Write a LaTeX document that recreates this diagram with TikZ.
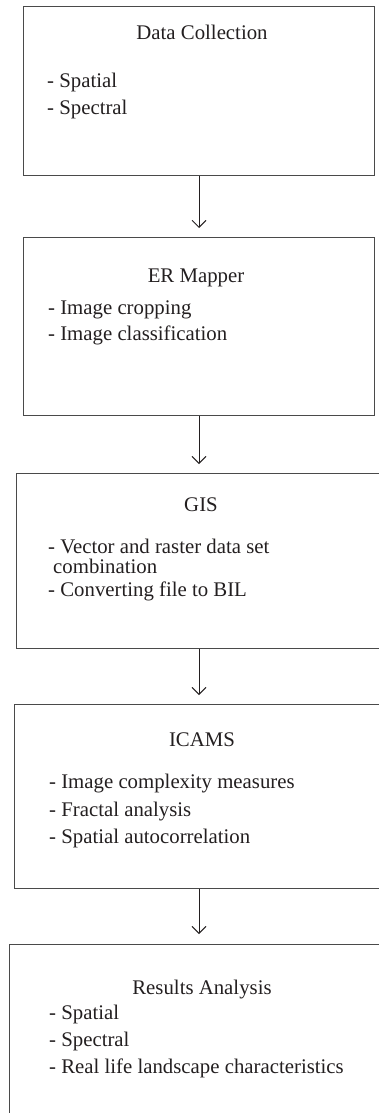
\documentclass[tikz,border=0pt]{standalone}
\usepackage{fontspec}
\setmainfont{Liberation Serif}
\usetikzlibrary{arrows.meta}
\definecolor{ink}{HTML}{231F20}
\definecolor{edge}{HTML}{4A4A4A}
\tikzset{
  box/.style={draw=edge, line width=1.3pt, rectangle, anchor=north west, inner sep=0pt},
  title/.style={anchor=base, text=ink, inner sep=0pt, font=\fontsize{20.8}{26}\selectfont},
  item/.style={anchor=base west, text=ink, inner sep=0pt, font=\fontsize{20.8}{26}\selectfont},
  arr/.style={draw=ink, line width=0.9pt, -{Straight Barb[length=7pt,width=14pt,line width=0.9pt]}}
}
\begin{document}
\begin{tikzpicture}[x=1pt,y=-1pt]
\useasboundingbox (0,0) rectangle (379,1113);
\coordinate (ax) at (199,0);
% boxes
\node[box, minimum width=351pt, minimum height=169pt] (b1) at (23,6) {};
\node[box, minimum width=351pt, minimum height=178pt] (b2) at (23,237) {};
\node[box, minimum width=375pt, minimum height=175pt] (b3) at (16,473) {};
\node[box, minimum width=377pt, minimum height=184pt] (b4) at (14,704) {};
\node[box, minimum width=382pt, minimum height=185pt] (b5) at (9,944) {};
% box 1
\node[title] (t1) at (202,39.5) {Data Collection};
\node[item] (b1i1) at (47,87.3) {- Spatial};
\node[item] (b1i2) at (47,114) {- Spectral};
% box 2
\node[title] (t2) at (196,282.7) {ER Mapper};
\node[item] (b2i1) at (48,314) {- Image cropping};
\node[item] (b2i2) at (48,340) {- Image classification};
% box 3
\node[title] (t3) at (201,511.7) {GIS};
\node[item] (b3i1) at (48,553.5) {- Vector and raster data set};
\node[item] (b3i2) at (53,573) {combination};
\node[item] (b3i3) at (48,596) {- Converting file to BIL};
% box 4
\node[title] (t4) at (202,746) {ICAMS};
\node[item] (b4i1) at (49,788) {- Image complexity measures};
\node[item] (b4i2) at (49,816.7) {- Fractal analysis};
\node[item] (b4i3) at (49,843) {- Spatial autocorrelation};
% box 5
\node[title] (t5) at (202,994) {Results Analysis};
\node[item] (b5i1) at (49,1019) {- Spatial};
\node[item] (b5i2) at (49,1046.7) {- Spectral};
\node[item] (b5i3) at (49,1073) {- Real life landscape characteristics};
% arrows
\draw[arr] (b1.south -| ax) -- ([yshift=9pt]b2.north -| ax);
\draw[arr] (b2.south -| ax) -- ([yshift=9pt]b3.north -| ax);
\draw[arr] (b3.south -| ax) -- ([yshift=9pt]b4.north -| ax);
\draw[arr] (b4.south -| ax) -- ([yshift=10pt]b5.north -| ax);
\end{tikzpicture}
\end{document}
